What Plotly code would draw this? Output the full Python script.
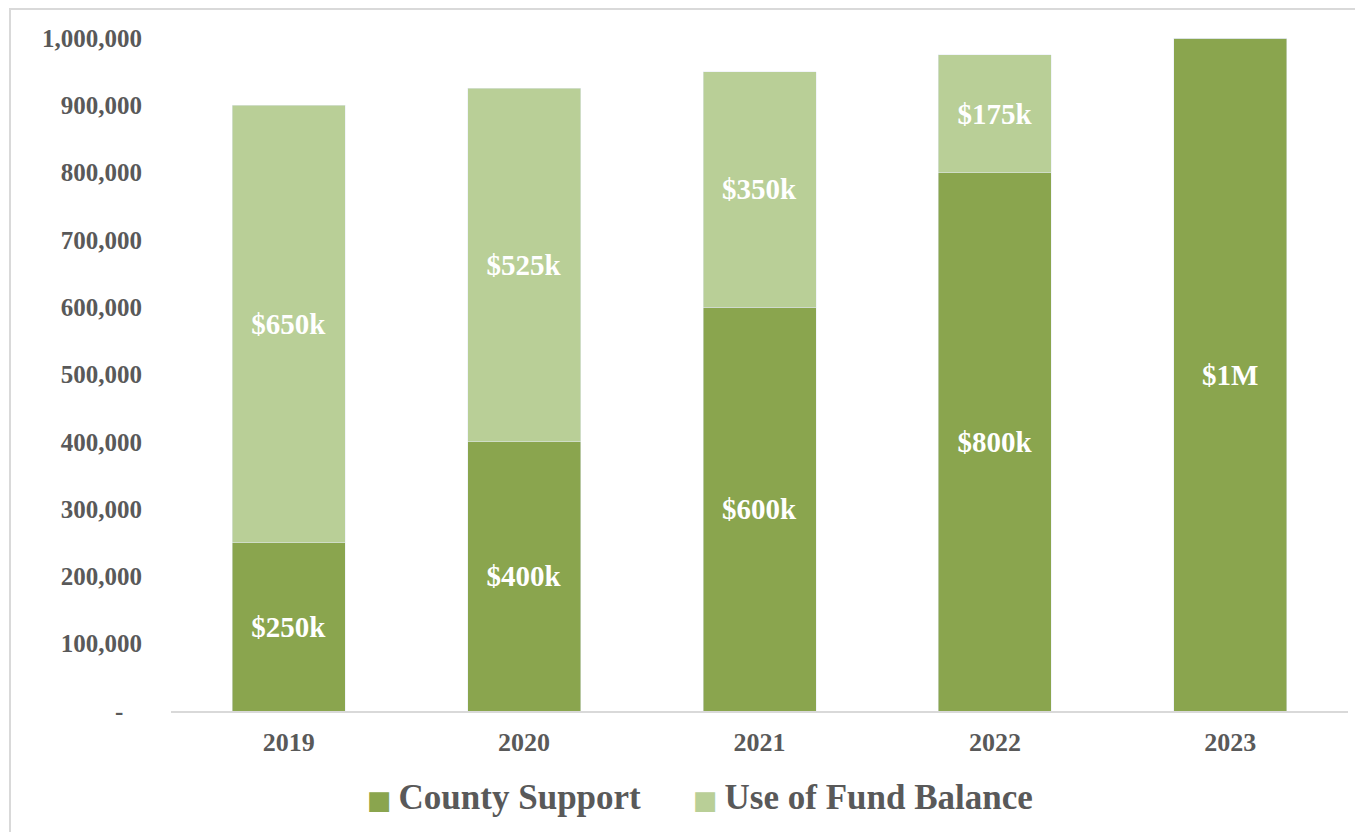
"""Stacked bar: County Support vs Use of Fund Balance, 2019-2023."""
import plotly.graph_objects as go

# data
YEARS = ["2019", "2020", "2021", "2022", "2023"]
COUNTY_SUPPORT = [250000, 400000, 600000, 800000, 1000000]
FUND_BALANCE = [650000, 525000, 350000, 175000, 0]
COUNTY_LABELS = ["$250k", "$400k", "$600k", "$800k", "$1M"]
FUND_LABELS = ["$650k", "$525k", "$350k", "$175k", ""]
SERIES_NAMES = ["County Support", "Use of Fund Balance"]

Y_TICKS = [0, 100000, 200000, 300000, 400000, 500000, 600000, 700000, 800000, 900000, 1000000]
Y_TICK_TEXT = ["-\u00a0\u00a0\u00a0", "100,000", "200,000", "300,000", "400,000", "500,000",
               "600,000", "700,000", "800,000", "900,000", "1,000,000"]

COLORS = {
    "county": "#8aa54e",
    "fund": "#b9cf97",
    "text": "#595959",
    "line": "#d9d9d9",
}
FONT = "Liberation Serif, Times New Roman, serif"
LABEL_FONT = dict(family=FONT, size=29, color="white", weight="bold")

fig = go.Figure()

fig.add_trace(go.Bar(
    x=YEARS, y=COUNTY_SUPPORT,
    name=SERIES_NAMES[0],
    marker_color=COLORS["county"],
    text=COUNTY_LABELS,
    textposition="inside",
    insidetextanchor="middle",
    textfont=LABEL_FONT,
    hoverinfo="x+y",
))
fig.add_trace(go.Bar(
    x=YEARS, y=FUND_BALANCE,
    name=SERIES_NAMES[1],
    marker_color=COLORS["fund"],
    text=FUND_LABELS,
    textposition="inside",
    insidetextanchor="middle",
    textfont=LABEL_FONT,
    hoverinfo="x+y",
))

# light gray frame around the chart area (cut off at right/bottom like the source)
fig.add_shape(
    type="rect", xref="paper", yref="paper",
    x0=-0.1368, x1=1.03, y0=-0.25, y1=1.0431,
    line=dict(color=COLORS["line"], width=2),
    fillcolor="rgba(0,0,0,0)",
    layer="below",
)

# legend drawn as annotations so the swatches can be as big as in the source
for name, color, xpos in [(SERIES_NAMES[0], COLORS["county"], 0.1650),
                          (SERIES_NAMES[1], COLORS["fund"], 0.4415)]:
    fig.add_annotation(
        xref="paper", yref="paper", x=xpos, y=-0.1278,
        xanchor="left", yanchor="middle", showarrow=False,
        text=(f"<span style='font-family:DejaVu Sans;font-size:26px;color:{color}'>■</span>"
              f"\u2009{name}"),
        font=dict(family=FONT, size=35, color=COLORS["text"], weight="bold"),
    )

fig.update_layout(
    barmode="stack",
    bargap=0.52,
    width=1363, height=832,
    paper_bgcolor="white",
    plot_bgcolor="white",
    font=dict(family=FONT, color=COLORS["text"]),
    margin=dict(l=163, r=23, t=30, b=129),
    showlegend=False,
)
fig.update_xaxes(
    showline=True, linecolor=COLORS["line"], linewidth=2,
    showgrid=False, ticks="",
    tickfont=dict(family=FONT, size=26, color=COLORS["text"], weight="bold"),
    ticklabelstandoff=7,
)
fig.update_yaxes(
    range=[0, 1000000],
    tickvals=Y_TICKS, ticktext=Y_TICK_TEXT,
    showgrid=False, showline=False, zeroline=False, ticks="",
    tickfont=dict(family=FONT, size=25, color=COLORS["text"], weight="bold"),
    ticklabelstandoff=28,
)

fig.write_html("out.html")
